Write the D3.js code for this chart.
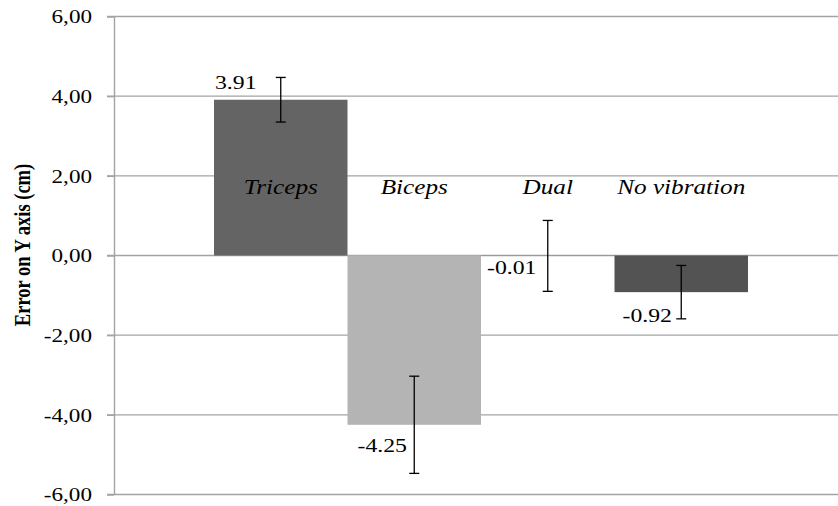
<!DOCTYPE html>
<html>
<head>
<meta charset="utf-8">
<script src="https://cdn.jsdelivr.net/npm/d3@7"></script>
<style>
  html, body { margin: 0; padding: 0; background: #fff; }
  svg { display: block; }
</style>
</head>
<body>
<svg id="chart" width="838" height="506"></svg>
<script>
// Mean positioning error on the Y axis per vibration condition, with error bars
const groups = ["Triceps", "Biceps", "Dual", "No vibration"];
const means = [3.91, -4.25, -0.01, -0.92];
const errors = [0.56, 1.22, 0.89, 0.67];
const yTicks = [-6, -4, -2, 0, 2, 4, 6];
const barColors = ["#646464", "#b4b4b4", "#8c8c8c", "#535353"];
// value label placement relative to the bar's left edge and value end
const labelOffsets = [[1, -11], [10, 27], [6, 18], [8, 29.5]];

const FONT = "Liberation Serif";
const svg = d3.select("#chart").attr("font-family", FONT);
const W = 838;
const axisX = 114;
const stretch = 1.25; // horizontal glyph stretch used throughout the chart

// plain hyphen-minus for negative numbers
const loc = d3.formatLocale({ decimal: ".", thousands: "", grouping: [3], currency: ["", ""], minus: "-" });
const fmtVal = loc.format(".2f");
const fmtTick = v => fmtVal(v).replace(".", ",");

const y = d3.scaleLinear().domain([-6, 6]).range([494.5, 16.5]);
const x = d3.scaleBand().domain(groups).range([214, 748]).padding(0);

// gridlines
svg.append("g")
  .selectAll("line")
  .data(yTicks)
  .join("line")
  .attr("x1", axisX - 7)
  .attr("x2", W)
  .attr("y1", d => y(d))
  .attr("y2", d => y(d))
  .attr("stroke", "#a3a3a3")
  .attr("stroke-width", 1.4);

// y axis line + tick marks
const yAxis = d3.axisLeft(y).tickValues(yTicks).tickSize(7).tickSizeOuter(0).tickFormat("");
const axisG = svg.append("g").attr("transform", `translate(${axisX},0)`).call(yAxis);
axisG.attr("font-family", FONT);
axisG.select(".domain").attr("stroke", "#a3a3a3").attr("stroke-width", 1.4);
axisG.selectAll(".tick line").attr("stroke", "#a3a3a3").attr("stroke-width", 1.4);

// tick labels (comma decimal separator)
svg.append("g")
  .selectAll("text")
  .data(yTicks)
  .join("text")
  .attr("font-family", FONT)
  .attr("font-size", 18.5)
  .attr("fill", "#000")
  .attr("transform", d => `translate(92,${y(d)}) scale(${stretch},1)`)
  .attr("dy", "0.36em")
  .attr("text-anchor", "end")
  .text(fmtTick);

// axis title
svg.append("text")
  .attr("font-family", FONT)
  .attr("font-size", 18.5)
  .attr("font-weight", "bold")
  .attr("fill", "#000")
  .attr("transform", `translate(30,245) scale(${stretch},1) rotate(-90)`)
  .attr("text-anchor", "middle")
  .text("Error on Y axis (cm)");

// bars
svg.append("g")
  .selectAll("rect")
  .data(groups)
  .join("rect")
  .attr("x", d => x(d))
  .attr("width", x.bandwidth())
  .attr("y", (d, i) => Math.min(y(means[i]), y(0)))
  .attr("height", (d, i) => Math.abs(y(means[i]) - y(0)))
  .attr("fill", (d, i) => barColors[i]);

// category names inside the chart
svg.append("g")
  .selectAll("text")
  .data(groups)
  .join("text")
  .attr("font-family", FONT)
  .attr("font-size", 21)
  .attr("font-style", "italic")
  .attr("fill", "#000")
  .attr("transform", d => `translate(${x(d) + x.bandwidth() / 2},194) scale(1.2,1)`)
  .attr("text-anchor", "middle")
  .text(d => d);

// error bars
const eg = svg.append("g").attr("stroke", "#000").attr("stroke-width", 1.3);
groups.forEach((g, i) => {
  const cx = x(g) + x.bandwidth() / 2;
  const top = y(means[i] + errors[i]);
  const bot = y(means[i] - errors[i]);
  eg.append("line").attr("x1", cx).attr("x2", cx).attr("y1", top).attr("y2", bot);
  eg.append("line").attr("x1", cx - 5).attr("x2", cx + 5).attr("y1", top).attr("y2", top);
  eg.append("line").attr("x1", cx - 5).attr("x2", cx + 5).attr("y1", bot).attr("y2", bot);
});

// value labels
svg.append("g")
  .selectAll("text")
  .data(groups)
  .join("text")
  .attr("font-family", FONT)
  .attr("font-size", 19)
  .attr("fill", "#000")
  .attr("transform", (d, i) =>
    `translate(${x(d) + labelOffsets[i][0]},${y(means[i]) + labelOffsets[i][1]}) scale(${stretch},1)`)
  .text((d, i) => fmtVal(means[i]));
</script>
</body>
</html>
